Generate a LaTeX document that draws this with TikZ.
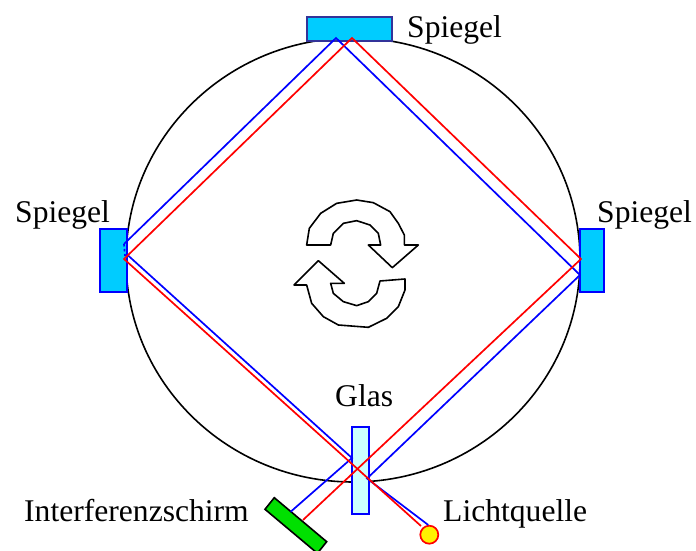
\documentclass[tikz,border=0pt]{standalone}
\usepackage{fontspec}
\usetikzlibrary{shapes.geometric}
\setmainfont{Liberation Serif}
\begin{document}
\begin{tikzpicture}[x=1pt,y=-1pt,line join=miter,
  label text/.style={anchor=base west,inner sep=0pt,font=\fontsize{31.6}{34}\selectfont},
  mirror/.style={draw=blue,fill=mirrorfill,line width=1.7pt},
  blueray/.style={draw=blue,line width=1.7pt},
  redray/.style={draw=red,line width=1.7pt},
  turn/.style={draw=black,fill=white,line width=1.6pt,line join=round}]
\definecolor{mirrorfill}{HTML}{00CCFF}
\definecolor{glassfill}{HTML}{CCFFFF}
\definecolor{screenfill}{HTML}{00E000}
\definecolor{topedge}{HTML}{333399}
\useasboundingbox (0,0) rectangle (696,551);
\node[draw=black,line width=1.6pt,ellipse,minimum width=454pt,minimum height=444pt,inner sep=0pt] (ring) at (353,260) {};
\node[mirror,draw=topedge,minimum width=85pt,minimum height=24pt,inner sep=0pt] (topm) at (349.5,29) {};
\node[mirror,minimum width=27pt,minimum height=63pt,inner sep=0pt] (leftm) at (113.5,260.5) {};
\node[mirror,minimum width=24pt,minimum height=63pt,inner sep=0pt] (rightm) at (592,260.5) {};
\node[draw=blue,fill=glassfill,line width=1.7pt,minimum width=17pt,minimum height=87pt,inner sep=0pt] (glass) at (360.5,470.5) {};
\filldraw[fill=screenfill,draw=black,line width=1.6pt] (274.3,497.7) -- (265,509.3) -- (317.4,553.3) -- (326.7,541.7) -- cycle;
\node[draw=red,fill=yellow,line width=1.7pt,circle,minimum size=18pt,inner sep=0pt] (source) at (429.3,534.7) {};
% ray points
\coordinate (bs) at (428.3,525);
\coordinate (bgr) at (367,478.5);
\coordinate (br) at (580,275);
\coordinate (bt) at (336,38);
\coordinate (bl1) at (124,244);
\coordinate (bl2) at (125,256);
\coordinate (bl3) at (127,254.5);
\coordinate (bgl) at (352,458);
\coordinate (bsc) at (290.7,511.7);
\coordinate (rs) at (421,526);
\coordinate (rl) at (124,259);
\coordinate (rt) at (352,38);
\coordinate (rr) at (581,259);
\coordinate (rsc) at (303,520);
\draw[blueray] (bs) -- (bgr) -- (br) -- (bt) -- (bl1);
\draw[blueray,dash pattern=on 2.5pt off 2.5pt] (bl1) -- (bl2);
\draw[blueray] (bl3) -- (bgl) -- (bsc);
\draw[redray] (rs) -- (rl) -- (rt) -- (rr) -- (rsc);
\begin{scope}[shift={(280,200)},x=0.3333pt,y=-0.3333pt]
\draw[turn] (80,135) -- (88,85) -- (122,40) -- (170,10) -- (230,0) -- (280,8) -- (330,35) -- (355,70) -- (373,105) -- (373,135) -- (415,135) -- (337,203) -- (265,135) -- (302,135) -- (295,100) -- (270,75) -- (230,62) -- (190,70) -- (160,100) -- (152,135) -- cycle;
\draw[turn] (42,255) -- (115,182) -- (193,250) -- (152,250) -- (160,280) -- (190,305) -- (230,317) -- (265,305) -- (290,280) -- (300,243) -- (375,237) -- (375,270) -- (355,320) -- (320,355) -- (265,382) -- (175,375) -- (130,350) -- (95,310) -- (80,255) -- cycle;
\end{scope}
\node[label text] (t1) at (407,38) {Spiegel};
\node[label text] (t2) at (15,222) {Spiegel};
\node[label text] (t3) at (597,222) {Spiegel};
\node[label text] (t4) at (335,406) {Glas};
\node[label text] (t5) at (24,521) {Interferenzschirm};
\node[label text] (t6) at (443,521) {Lichtquelle};
\end{tikzpicture}
\end{document}
